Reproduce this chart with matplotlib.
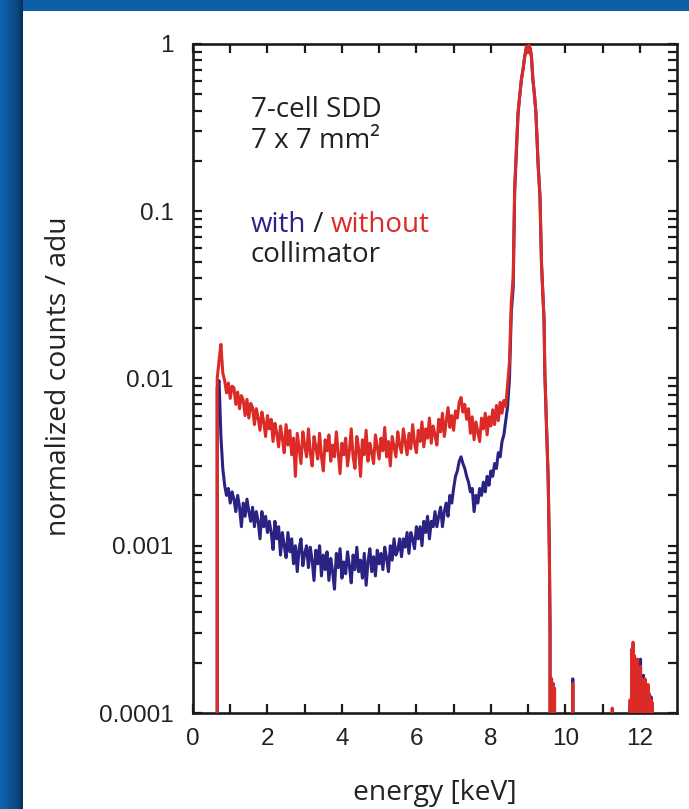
import numpy as np
import matplotlib
matplotlib.use("Agg")
import matplotlib.pyplot as plt
from matplotlib.patches import Rectangle
from matplotlib.ticker import FixedLocator, FixedFormatter, NullFormatter

# ---------------- data ----------------
# background region: channels every 0.05 keV from 0.60 keV
bg_start = 0.60
bg_step = 0.05
red_bg = [
    0, 0.0100, 0.0128, 0.0160, 0.0108, 0.0097, 0.0082, 0.0094, 0.0076, 0.0090,
    0.0088, 0.0070, 0.0083, 0.0066, 0.0079, 0.0074, 0.0060, 0.0075, 0.0058, 0.0071,
    0.0067, 0.0053, 0.0066, 0.0058, 0.0049, 0.0063, 0.0055, 0.0045, 0.0060, 0.0050,
    0.0057, 0.0042, 0.0054, 0.0047, 0.0039, 0.0052, 0.0044, 0.0036, 0.0053, 0.0040,
    0.0049, 0.0035, 0.0044, 0.0026, 0.0047, 0.0038, 0.0031, 0.0048, 0.0040, 0.0034,
    0.0050, 0.0036, 0.0030, 0.0045, 0.0039, 0.0033, 0.0047, 0.0034, 0.0028, 0.0043,
    0.0037, 0.0046, 0.0032, 0.0040, 0.0034, 0.0048, 0.0036, 0.0027, 0.0041, 0.0035,
    0.0044, 0.0030, 0.0037, 0.0050, 0.0034, 0.0029, 0.0045, 0.0038, 0.0026, 0.0043,
    0.0035, 0.0049, 0.0032, 0.0041, 0.0036, 0.0031, 0.0046, 0.0039, 0.0033, 0.0044,
    0.0037, 0.0051, 0.0034, 0.0042, 0.0030, 0.0045, 0.0039, 0.0034, 0.0048, 0.0040,
    0.0036, 0.0050, 0.0042, 0.0035, 0.0047, 0.0038, 0.0053, 0.0041, 0.0036, 0.0049,
    0.0042, 0.0055, 0.0039, 0.0050, 0.0044, 0.0058, 0.0041, 0.0052, 0.0046, 0.0040,
    0.0057, 0.0048, 0.0062, 0.0045, 0.0055, 0.0067, 0.0051, 0.0060, 0.0049, 0.0064,
    0.0058, 0.0072, 0.0077, 0.0063, 0.0070, 0.0057, 0.0066, 0.0047, 0.0059, 0.0043,
    0.0055, 0.0048, 0.0042, 0.0058, 0.0050, 0.0062, 0.0046, 0.0059, 0.0052, 0.0065,
    0.0053, 0.0069, 0.0056, 0.0072, 0.0062, 0.0074, 0.0068, 0.0092, 0.0125, 0.0290,
]
blue_bg = [
    0, 0.0088, 0.0097, 0.0045, 0.0029, 0.0023, 0.0020, 0.0022, 0.0018, 0.0021,
    0.0019, 0.0016, 0.0020, 0.0017, 0.0013, 0.0018, 0.0015, 0.0019, 0.0016, 0.0014,
    0.0017, 0.0013, 0.0016, 0.0014, 0.0011, 0.0016, 0.0013, 0.0015, 0.0012, 0.0014,
    0.0012, 0.00095, 0.0014, 0.0011, 0.0013, 0.00088, 0.0012, 0.0010, 0.00085, 0.0012,
    0.00092, 0.0011, 0.00078, 0.0010, 0.00070, 0.00096, 0.0011, 0.00076, 0.00090, 0.0010,
    0.00074, 0.00098, 0.00082, 0.00062, 0.00094, 0.00078, 0.0010, 0.00066, 0.00088, 0.00072,
    0.00092, 0.00062, 0.00084, 0.00070, 0.00055, 0.00090, 0.00074, 0.00096, 0.00064, 0.00080,
    0.00068, 0.00092, 0.00076, 0.00060, 0.00088, 0.00072, 0.00098, 0.00070, 0.00082, 0.00064,
    0.00090, 0.00058, 0.00080, 0.00096, 0.00070, 0.00086, 0.00066, 0.00094, 0.00078, 0.00090,
    0.00072, 0.00098, 0.00084, 0.00070, 0.0010, 0.00082, 0.0011, 0.00088, 0.00094, 0.0011,
    0.00086, 0.0011, 0.00098, 0.0012, 0.00090, 0.0012, 0.0011, 0.00096, 0.0013, 0.0011,
    0.0013, 0.0010, 0.0014, 0.0012, 0.0015, 0.0011, 0.0014, 0.0013, 0.0016, 0.0013,
    0.0015, 0.0017, 0.0013, 0.0016, 0.0018, 0.0015, 0.0020, 0.0018, 0.0022, 0.0026,
    0.0028, 0.0032, 0.0034, 0.0031, 0.0029, 0.0026, 0.0024, 0.0021, 0.0022, 0.0016,
    0.0020, 0.0018, 0.0022, 0.0020, 0.0024, 0.0021, 0.0026, 0.0023, 0.0028, 0.0026,
    0.0031, 0.0029, 0.0036, 0.0034, 0.0042, 0.0046, 0.0056, 0.0068, 0.0100, 0.0250,
]

# main peak
peak_energy = [8.60, 8.64, 8.68, 8.73, 8.78, 8.82, 8.87, 8.91, 8.96, 9.00,
               9.03, 9.06, 9.09, 9.13, 9.17, 9.21, 9.27, 9.32, 9.36, 9.43,
               9.45, 9.50, 9.54, 9.57, 9.59, 9.61, 9.63, 9.65, 9.67, 9.69,
               9.71, 9.73, 9.75]
red_peak = [0.040, 0.14, 0.22, 0.39, 0.50, 0.61, 0.72, 0.84, 0.97, 0.89,
            0.98, 0.93, 0.84, 0.61, 0.50, 0.39, 0.19, 0.122, 0.049, 0.022,
            0.0108, 0.0049, 0.0025, 0.00099, 0.00032, 0, 0.00016, 0, 0.00015, 0,
            0.00014, 0, 0]
blue_peak = [0.035, 0.13, 0.21, 0.38, 0.50, 0.61, 0.72, 0.84, 0.97, 0.89,
             0.98, 0.93, 0.84, 0.61, 0.50, 0.39, 0.19, 0.122, 0.049, 0.022,
             0.0108, 0.0049, 0.0025, 0.00099, 0.00032, 0, 0.00016, 0, 0.00015, 0,
             0.00014, 0, 0]

# sparse high-energy tail
tail_energy = [10.18, 10.20, 10.22, 11.24, 11.26, 11.28,
               11.72, 11.74, 11.76, 11.78, 11.80, 11.82, 11.84, 11.86, 11.88, 11.90,
               11.92, 11.94, 11.96, 11.98, 12.00, 12.02, 12.04, 12.06, 12.08, 12.10,
               12.12, 12.14, 12.16, 12.18, 12.20, 12.22, 12.24, 12.26, 12.28, 12.30,
               12.32, 12.34, 12.36, 12.38]
red_tail = [0, 0.000150, 0, 0, 0.000107, 0,
            0, 0.00012, 0, 0.00024, 0, 0.000265, 0, 0.00022, 0, 0.00019,
            0, 0.00021, 0, 0.00018, 0, 0.00019, 0, 0.00016, 0, 0.00015,
            0, 0.00016, 0, 0.00014, 0, 0.000148, 0, 0.00013, 0, 0.00012,
            0, 0.000115, 0, 0]
blue_tail = [0, 0.000160, 0, 0, 0, 0,
             0, 0.00011, 0, 0.00020, 0, 0.00024, 0, 0.00021, 0, 0.00018,
             0, 0.00019, 0, 0.00020, 0, 0.00021, 0, 0.00015, 0, 0.000168,
             0, 0.00014, 0, 0.00013, 0, 0.00014, 0, 0.00012, 0, 0.000125,
             0, 0.00011, 0, 0]

x_major = [0, 2, 4, 6, 8, 10, 12]
x_minor = [1, 3, 5, 7, 9, 11]
y_major = [1e-4, 1e-3, 1e-2, 1e-1, 1]
y_labels = ["0.0001", "0.001", "0.01", "0.1", "1"]

RED = "#dc2b27"
BLUE = "#2a2384"

# ---------------- assemble ----------------
bg_energy = bg_start + bg_step * np.arange(len(red_bg))
energy = np.concatenate([bg_energy, peak_energy, tail_energy])
red = np.concatenate([red_bg, red_peak, red_tail])
blue = np.concatenate([blue_bg, blue_peak, blue_tail])

W, H = 689, 809
fig = plt.figure(figsize=(W / 100, H / 100), dpi=100)
fig.patch.set_facecolor("#0e5fa8")

# left blue strip with shadow gradient
gax = fig.add_axes([0, 0, 23 / W, 1])
c0 = np.array([16, 100, 176]) / 255
c1 = np.array([10, 72, 128]) / 255
c2 = np.array([6, 48, 90]) / 255
t = np.linspace(0, 1, 60)
cols = np.array([c0 + (c1 - c0) * (tt / 0.75) if tt < 0.75 else c1 + (c2 - c1) * ((tt - 0.75) / 0.25) for tt in t])
gax.imshow(cols[None, :, :], aspect="auto", extent=[0, 1, 0, 1])
gax.axis("off")

# white panel
fig.add_artist(Rectangle((23 / W, 0), 1 - 23 / W, (H - 11) / H,
                         transform=fig.transFigure, facecolor="white",
                         edgecolor="none", zorder=-1))

ax = fig.add_axes([193 / W, 96 / H, 484 / W, 669 / H])
ax.set_facecolor("white")
ax.plot(energy, blue, color=BLUE, lw=2.2, zorder=3)
ax.plot(energy, red, color=RED, lw=2.2, zorder=4)

ax.set_yscale("log", nonpositive="clip")
ax.set_ylim(1e-4, 1.0)
ax.set_xlim(0, 13)

ax.xaxis.set_major_locator(FixedLocator(x_major))
ax.xaxis.set_minor_locator(FixedLocator(x_minor))
ax.yaxis.set_major_locator(FixedLocator(y_major))
ax.yaxis.set_major_formatter(FixedFormatter(y_labels))
minors = [m * 10.0 ** d for d in range(-4, 0) for m in range(2, 10)]
ax.yaxis.set_minor_locator(FixedLocator(minors))
ax.yaxis.set_minor_formatter(NullFormatter())

for s in ax.spines.values():
    s.set_linewidth(1.9)
    s.set_color("#1a1a1a")
ax.tick_params(which="both", direction="in", top=True, right=True,
               length=6.5, width=1.6, color="#1a1a1a")
ax.tick_params(axis="x", which="major", pad=11)
ax.tick_params(axis="y", which="major", pad=14)
for lab in ax.get_xticklabels() + ax.get_yticklabels():
    lab.set_fontfamily("Liberation Sans")
    lab.set_fontsize(17.5)
    lab.set_color("#222222")

lab_font = dict(family="Open Sans", size=20.3, color="#222222")
fig.text(59 / W, 1 - 376 / H, "normalized counts / adu", rotation=90,
         ha="center", va="center", **lab_font)
fig.text(435 / W, 1 - 800 / H, "energy [keV]", ha="center", va="baseline", **lab_font)

txt_font = dict(family="Open Sans", size=20)
fig.text(251 / W, 1 - 117 / H, "7-cell SDD", ha="left", va="baseline", color="#222222", **txt_font)
fig.text(251 / W, 1 - 148 / H, "7 x 7 mm²", ha="left", va="baseline", color="#222222", **txt_font)
t1 = fig.text(251 / W, 1 - 232 / H, "with", ha="left", va="baseline", color=BLUE, **txt_font)
t2 = fig.text(0, 0, " / ", ha="left", va="baseline", color="#222222", **txt_font)
t3 = fig.text(0, 0, "without", ha="left", va="baseline", color=RED, **txt_font)
fig.text(251 / W, 1 - 262 / H, "collimator", ha="left", va="baseline", color="#222222", **txt_font)

fig.canvas.draw()
r = fig.canvas.get_renderer()
bb1 = t1.get_window_extent(r)
t2.set_position(((bb1.x1) / W, 1 - 232 / H))
fig.canvas.draw()
bb2 = t2.get_window_extent(r)
t3.set_position(((bb2.x1) / W, 1 - 232 / H))

fig.savefig("out.png", dpi=100, facecolor=fig.get_facecolor())
